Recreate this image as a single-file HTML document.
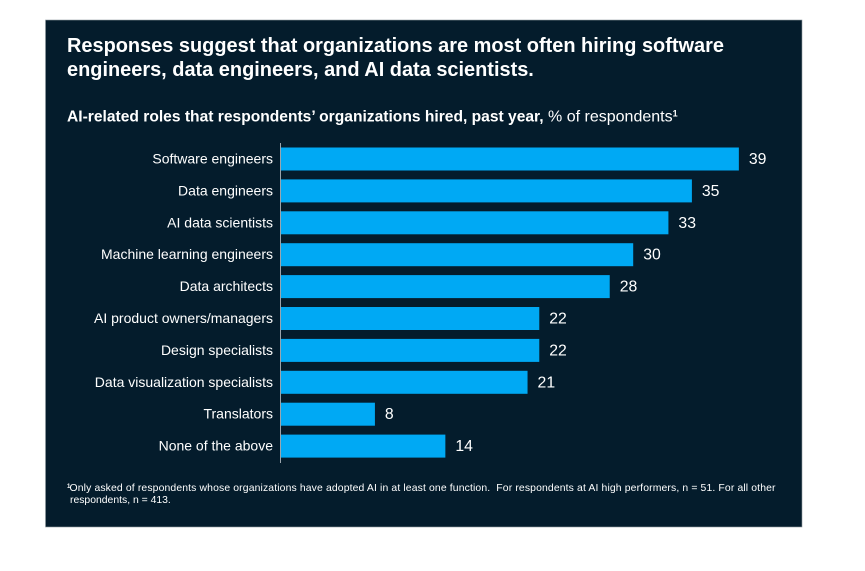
<!DOCTYPE html>
<html>
<head>
<meta charset="utf-8">
<style>
html,body{margin:0;padding:0;background:#fff;}
body{width:865px;height:571px;overflow:hidden;position:relative;font-family:"Liberation Sans",sans-serif;}
svg{position:absolute;left:0;top:0;}
</style>
</head>
<body>
<svg id="chart" width="865" height="571" viewBox="0 0 865 571" font-family="'Liberation Sans',sans-serif">
<rect x="45.5" y="20" width="756.5" height="507" fill="#041C2C" stroke="#8f999f" stroke-width="0.6"/>
<g fill="#ffffff" font-weight="700" font-size="19.95">
<text x="67" y="52">Responses suggest that organizations are most often hiring software</text>
<text x="67" y="76">engineers, data engineers, and AI data scientists.</text>
</g>
<text x="67" y="121.5" fill="#ffffff" font-size="16"><tspan font-weight="700" font-size="15.6">AI-related roles that respondents’ organizations hired, past year,</tspan> % of respondents<tspan font-size="9" font-weight="700" dy="-5">1</tspan></text>
<g id="bars"></g>
<line x1="280.5" y1="143" x2="280.5" y2="463" stroke="#9aa5ad" stroke-width="1"/>
<g fill="#ffffff" font-size="10.4">
<text x="67" y="491"><tspan font-size="6" font-weight="700" dy="-3">1</tspan><tspan x="69.5" dy="3" textLength="706" lengthAdjust="spacing">Only asked of respondents whose organizations have adopted AI in at least one function.&#160; For respondents at AI high performers, n = 51. For all other</tspan></text>
<text x="70" y="503">respondents, n = 413.</text>
</g>
</svg>
<script>
const categories = ["Software engineers","Data engineers","AI data scientists","Machine learning engineers","Data architects","AI product owners/managers","Design specialists","Data visualization specialists","Translators","None of the above"];
const seriesValues = [39,35,33,30,28,22,22,21,8,14];

const NS = "http://www.w3.org/2000/svg";
const xScale = v => 281 + v * 11.74;
const yScale = i => 147.5 + i * 31.9;
const barH = 23;
const root = document.getElementById("bars");
categories.forEach((c, i) => {
  const v = seriesValues[i];
  const y = yScale(i);
  const r = document.createElementNS(NS, "rect");
  r.setAttribute("x", xScale(0));
  r.setAttribute("y", y);
  r.setAttribute("width", xScale(v) - xScale(0));
  r.setAttribute("height", barH);
  r.setAttribute("fill", "#00A9F4");
  
  
  root.appendChild(r);

  const l = document.createElementNS(NS, "text");
  l.setAttribute("x", 273);
  l.setAttribute("y", y + barH / 2 + 4.5);
  l.setAttribute("text-anchor", "end");
  l.setAttribute("fill", "#ffffff");
  l.setAttribute("font-size", "14");
  l.textContent = c;
  
  
  root.appendChild(l);

  const t = document.createElementNS(NS, "text");
  t.setAttribute("x", xScale(v) + 10);
  t.setAttribute("y", y + barH / 2 + 5);
  t.setAttribute("fill", "#ffffff");
  t.setAttribute("font-size", "15.8");
  t.textContent = v;
  
  
  root.appendChild(t);
});
</script>
</body>
</html>
